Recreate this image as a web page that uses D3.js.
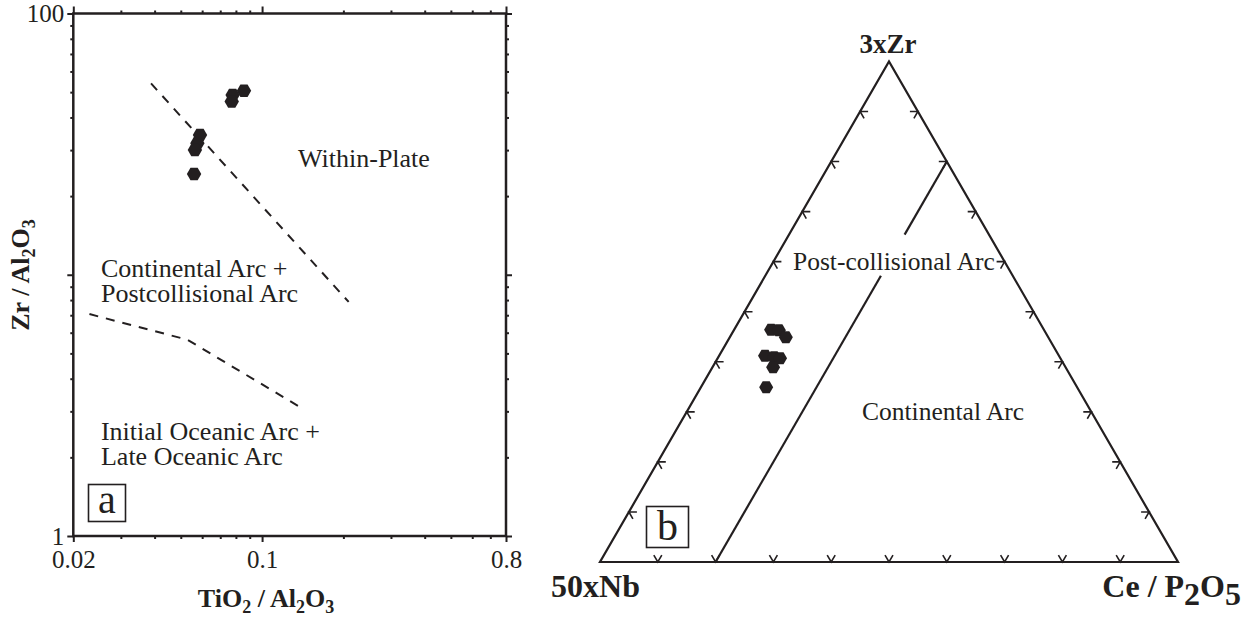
<!DOCTYPE html>
<html><head><meta charset="utf-8">
<script src="https://cdn.jsdelivr.net/npm/d3@7"></script>
<style>
html,body{margin:0;padding:0;background:#fff;}
text{font-family:"Liberation Serif","Times New Roman",serif;fill:#231f20;}
</style></head>
<body>
<svg id="chart" width="1245" height="621"></svg>
<script>
// ---------- Panel a data ----------
const xTickLabels = [0.02, 0.1, 0.8];
const yTickLabels = [1, 100];
const xMinorTicks = [0.03,0.04,0.05,0.06,0.07,0.08,0.09,0.2,0.3,0.4,0.5,0.6,0.7];
const yMinorTicks = [2,3,4,5,6,7,8,9,20,30,40,50,60,70,80,90];
const xMajorTicks = [0.02, 0.1, 0.8];
const yMajorTicks = [1, 10, 100];
const sampleTi = [0.0857, 0.0778, 0.0772, 0.0589, 0.0576, 0.0564, 0.0560];
const sampleZr = [50.6, 48.8, 46.0, 34.3, 31.9, 30.0, 24.3];
const divWPti = [0.0388, 0.2092];
const divWPzr = [54.0, 7.87];
const divOAti = [0.02295, 0.0529, 0.1386];
const divOAzr = [7.07, 5.64, 3.11];
const fieldsA = [
  {lines:["Within-Plate"], ti:0.1359, zr:25.85},
  {lines:["Continental Arc +","Postcollisional Arc"], ti:0.02532, zr:9.80},
  {lines:["Initial Oceanic Arc +","Late Oceanic Arc"], ti:0.02532, zr:2.33}
];

// ---------- Panel b data (ternary: 50xNb, Ce/P2O5, 3xZr) ----------
const ternZr = [0.464, 0.463, 0.449, 0.412, 0.409, 0.407, 0.389, 0.349];
const ternCe = [0.064, 0.078, 0.097, 0.0795, 0.0966, 0.108, 0.105, 0.113];
const ternTicks = [0.1,0.2,0.3,0.4,0.5,0.6,0.7,0.8,0.9];
const boundaryLow = [{ce:0.2, zr:0.0}, {ce:0.2, zr:0.572}];
const boundaryHigh = [{ce:0.2, zr:0.654}, {ce:0.2, zr:0.8}];

const svg = d3.select("#chart");
const ink = "#231f20";
const serif = '"Liberation Serif","Times New Roman",serif';

// ================= Panel a =================
const x = d3.scaleLog().domain([0.02, 0.8]).range([73.3, 506]);
const y = d3.scaleLog().domain([1, 100]).range([536, 13.5]);
const gA = svg.append("g");

function styleAxis(g){
  g.attr("font-family", serif).attr("font-size", 25);
  g.select(".domain").remove();
  g.selectAll(".tick line").attr("stroke", ink).attr("stroke-width", 2);
  g.selectAll(".tick text").style("font-size","25px").attr("fill", ink).style("font-family", serif);
}
// minor ticks
gA.append("g").attr("transform",`translate(0,536)`).call(d3.axisBottom(x).tickValues(xMinorTicks).tickSize(3).tickFormat("")).call(styleAxis);
gA.append("g").attr("transform",`translate(0,13.5)`).call(d3.axisTop(x).tickValues(xMinorTicks).tickSize(3).tickFormat("")).call(styleAxis);
gA.append("g").attr("transform",`translate(73.3,0)`).call(d3.axisLeft(y).tickValues(yMinorTicks).tickSize(3).tickFormat("")).call(styleAxis);
gA.append("g").attr("transform",`translate(506,0)`).call(d3.axisRight(y).tickValues(yMinorTicks).tickSize(3).tickFormat("")).call(styleAxis);
// major ticks
gA.append("g").attr("transform",`translate(0,536)`).call(d3.axisBottom(x).tickValues(xMajorTicks).tickSize(6).tickPadding(8).tickFormat(d => xTickLabels.includes(d) ? String(d) : "")).call(styleAxis);
gA.append("g").attr("transform",`translate(0,13.5)`).call(d3.axisTop(x).tickValues(xMajorTicks).tickSize(7).tickFormat("")).call(styleAxis);
gA.append("g").attr("transform",`translate(73.3,0)`).call(d3.axisLeft(y).tickValues(yMajorTicks).tickSize(6).tickPadding(3).tickFormat(d => yTickLabels.includes(d) ? String(d) : "")).call(styleAxis);
gA.append("g").attr("transform",`translate(506,0)`).call(d3.axisRight(y).tickValues(yMajorTicks).tickSize(6).tickFormat("")).call(styleAxis);

// frame
gA.append("rect").attr("x", x(0.02)).attr("y", y(100))
  .attr("width", x(0.8)-x(0.02)).attr("height", y(1)-y(100))
  .attr("fill","none").attr("stroke", ink).attr("stroke-width", 2.5);

// dashed boundaries
const lineA = d3.line().x(d => x(d[0])).y(d => y(d[1]));
gA.append("path").attr("d", lineA(divWPti.map((t,i)=>[t, divWPzr[i]])))
  .attr("fill","none").attr("stroke", ink).attr("stroke-width", 2).attr("stroke-dasharray","9,8");
gA.append("path").attr("d", lineA(divOAti.map((t,i)=>[t, divOAzr[i]])))
  .attr("fill","none").attr("stroke", ink).attr("stroke-width", 2).attr("stroke-dasharray","9,8");

// hexagon symbol
const hexPath = r => { const p = d3.path(); for(let k=0;k<6;k++){ const a = Math.PI/3*k; const px = r*Math.cos(a), py = r*Math.sin(a); k?p.lineTo(px,py):p.moveTo(px,py);} p.closePath(); return p.toString(); };

gA.selectAll(".ptA").data(sampleTi.map((t,i)=>[t, sampleZr[i]])).join("path")
  .attr("class","ptA").attr("d", hexPath(7.2))
  .attr("transform", d => `translate(${x(d[0])},${y(d[1])})`)
  .attr("fill", ink);

// field labels
fieldsA.forEach(f => {
  const t = gA.append("text").attr("x", x(f.ti)).attr("y", y(f.zr)).style("font-size","26px");
  f.lines.forEach((l,i) => t.append("tspan").attr("x", x(f.ti)).attr("dy", i?25:0).text(l));
});

// panel label a
gA.append("rect").attr("x", 88.5).attr("y", 484.5).attr("width", 37).attr("height", 37)
  .attr("fill","none").attr("stroke", ink).attr("stroke-width", 1.6);
gA.append("text").attr("x", 107).attr("y", 513).attr("text-anchor","middle").style("font-size","40px").text("a");

// axis titles
const xt = gA.append("text").attr("x", 266).attr("y", 607).attr("text-anchor","middle")
  .style("font-size","26px").style("font-weight","bold");
xt.append("tspan").text("TiO");
xt.append("tspan").attr("dy", 6).style("font-size","18px").text("2");
xt.append("tspan").attr("dy", -6).text(" / Al");
xt.append("tspan").attr("dy", 6).style("font-size","18px").text("2");
xt.append("tspan").attr("dy", -6).text("O");
xt.append("tspan").attr("dy", 6).style("font-size","18px").text("3");

const yt = gA.append("text").attr("transform","translate(29,275) rotate(-90)").attr("text-anchor","middle")
  .style("font-size","26px").style("font-weight","bold");
yt.append("tspan").text("Zr / Al");
yt.append("tspan").attr("dy", 6).style("font-size","18px").text("2");
yt.append("tspan").attr("dy", -6).text("O");
yt.append("tspan").attr("dy", 6).style("font-size","18px").text("3");

// ================= Panel b =================
const gB = svg.append("g");
const H = Math.sqrt(3)/2;
const tx = d3.scaleLinear().domain([0, 1]).range([600, 1178]);
const ty = d3.scaleLinear().domain([0, H]).range([562, 562 - 578*H]);
const tern = (ce, zr) => [tx(ce + zr/2), ty(zr*H)];

// triangle frame
gB.append("path").attr("d", d3.line()([tern(0,0), tern(1,0), tern(0,1)]) + "Z")
  .attr("fill","none").attr("stroke", ink).attr("stroke-width", 2.2).attr("stroke-linejoin","miter");

// ticks: chevrons along the two other edge directions
const tickLen = 8;
function chevron(p, d1, d2){
  return d3.line()([[p[0]+d1[0]*tickLen, p[1]+d1[1]*tickLen], p, [p[0]+d2[0]*tickLen, p[1]+d2[1]*tickLen]]);
}
const s60 = Math.sin(Math.PI/3), c60 = 0.5;
ternTicks.forEach(v => {
  gB.append("path").attr("d", chevron(tern(v,0), [c60,-s60], [-c60,-s60])).attr("fill","none").attr("stroke",ink).attr("stroke-width",1.6);
  gB.append("path").attr("d", chevron(tern(0,v), [1,0], [c60,s60])).attr("fill","none").attr("stroke",ink).attr("stroke-width",1.6);
  gB.append("path").attr("d", chevron(tern(1-v,v), [-1,0], [-c60,s60])).attr("fill","none").attr("stroke",ink).attr("stroke-width",1.6);
});

// boundary
const lineT = d3.line().x(d => tern(d.ce,d.zr)[0]).y(d => tern(d.ce,d.zr)[1]);
gB.append("path").attr("d", lineT(boundaryLow)).attr("fill","none").attr("stroke",ink).attr("stroke-width",2.2);
gB.append("path").attr("d", lineT(boundaryHigh)).attr("fill","none").attr("stroke",ink).attr("stroke-width",2.2);

// points
gB.selectAll(".ptB").data(ternZr.map((z,i)=>[ternCe[i], z])).join("path")
  .attr("class","ptB").attr("d", hexPath(7))
  .attr("transform", d => `translate(${tern(d[0],d[1])[0]},${tern(d[0],d[1])[1]})`)
  .attr("fill", ink);

// field labels
gB.append("text").attr("x", 793).attr("y", 270).style("font-size","25.5px").text("Post-collisional Arc");
gB.append("text").attr("x", 862).attr("y", 420).style("font-size","25.5px").text("Continental Arc");

// vertex labels
gB.append("text").attr("x", 888).attr("y", 53).attr("text-anchor","middle").style("font-size","27px").style("font-weight","bold").text("3xZr");
gB.append("text").attr("x", 640).attr("y", 597).attr("text-anchor","end").style("font-size","32px").style("font-weight","bold").text("50xNb");
const ce = gB.append("text").attr("x", 1241).attr("y", 597).attr("text-anchor","end").style("font-size","32px").style("font-weight","bold");
ce.append("tspan").text("Ce / P");
ce.append("tspan").attr("dy", 8).text("2");
ce.append("tspan").attr("dy", -8).text("O");
ce.append("tspan").attr("dy", 8).text("5");

// panel label b
gB.append("rect").attr("x", 646.5).attr("y", 506.5).attr("width", 42).attr("height", 41)
  .attr("fill","none").attr("stroke", ink).attr("stroke-width", 1.6);
gB.append("text").attr("x", 667.5).attr("y", 540).attr("text-anchor","middle").style("font-size","42px").text("b");
</script>
</body></html>
